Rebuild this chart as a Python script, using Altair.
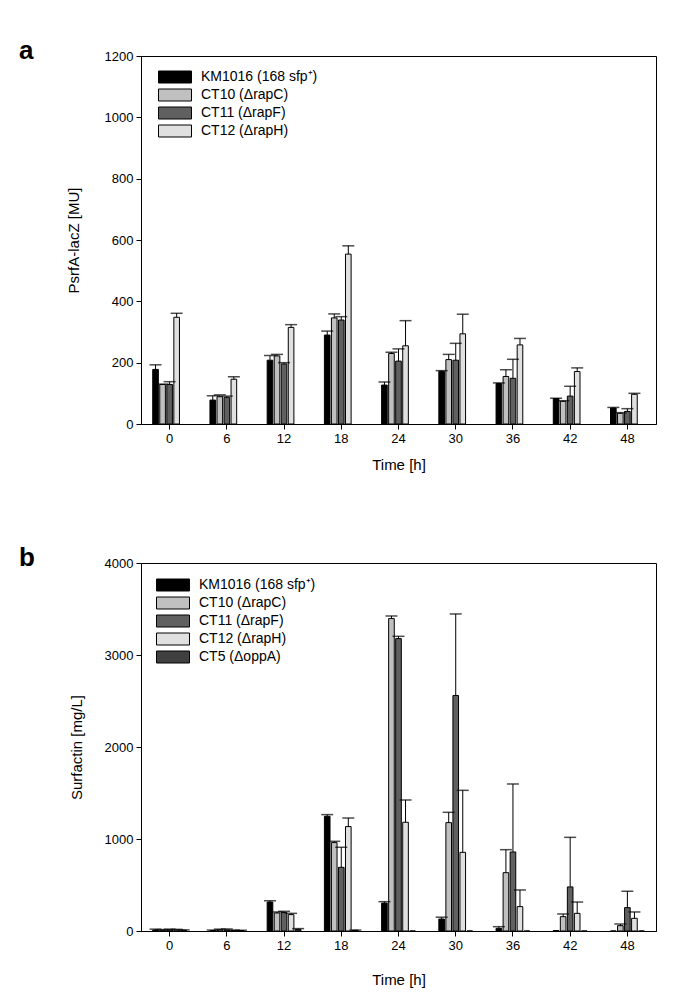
import altair as alt
import pandas as pd

times = [0, 6, 12, 18, 24, 30, 36, 42, 48]

strains_all = ["KM1016 (168 sfp\u207a)", "CT10 (\u0394rapC)", "CT11 (\u0394rapF)",
               "CT12 (\u0394rapH)", "CT5 (\u0394oppA)"]
colors_all = ["#000000", "#c0c0c0", "#606060", "#e0e0e0", "#404040"]

# Panel a: PsrfA-lacZ [MU] (mean, upper error)
a_km1016 = [178, 78, 208, 290, 127, 172, 132, 83, 52]
a_km1016_err = [15, 14, 15, 13, 10, 2, 2, 1, 2]
a_ct10 = [129, 89, 222, 346, 230, 210, 155, 74, 35]
a_ct10_err = [1, 6, 5, 13, 4, 17, 22, 2, 2]
a_ct11 = [129, 87, 196, 339, 205, 208, 149, 91, 41]
a_ct11_err = [9, 4, 4, 11, 40, 55, 62, 32, 9]
a_ct12 = [348, 146, 315, 554, 255, 294, 258, 171, 97]
a_ct12_err = [13, 8, 9, 27, 82, 64, 21, 12, 3]

# Panel b: Surfactin [mg/L] (mean, upper error)
b_km1016 = [10, 5, 315, 1247, 304, 130, 29, 5, 0]
b_km1016_err = [10, 5, 15, 18, 15, 20, 18, 0, 0]
b_ct10 = [8, 12, 196, 961, 3396, 1178, 634, 156, 58]
b_ct10_err = [7, 8, 11, 14, 28, 112, 250, 29, 18]
b_ct11 = [12, 10, 200, 692, 3178, 2560, 859, 479, 254]
b_ct11_err = [8, 12, 14, 218, 25, 886, 739, 539, 178]
b_ct12 = [10, 5, 178, 1135, 1182, 855, 265, 192, 138]
b_ct12_err = [8, 5, 14, 93, 242, 674, 181, 123, 69]
b_ct5 = [8, 5, 18, 8, 0, 0, 0, 0, 0]
b_ct5_err = [4, 3, 8, 2, 0, 0, 0, 0, 0]


def frame(series):
    rows = []
    for name, vals, errs in series:
        for t, v, e in zip(times, vals, errs):
            rows.append({"time": t, "strain": name, "value": v, "err": e})
    return pd.DataFrame(rows)


df_a = frame([
    (strains_all[0], a_km1016, a_km1016_err),
    (strains_all[1], a_ct10, a_ct10_err),
    (strains_all[2], a_ct11, a_ct11_err),
    (strains_all[3], a_ct12, a_ct12_err),
])
df_b = frame([
    (strains_all[0], b_km1016, b_km1016_err),
    (strains_all[1], b_ct10, b_ct10_err),
    (strains_all[2], b_ct11, b_ct11_err),
    (strains_all[3], b_ct12, b_ct12_err),
    (strains_all[4], b_ct5, b_ct5_err),
])

FONT = "Liberation Sans"
RECT = "M-2.75,-1L2.75,-1L2.75,1L-2.75,1Z"


def panel(df, n, ymax, ystep, ytitle, letter, ytitle_pad, xtitle_pad, lx, ly):
    xenc = alt.X("time:O", scale=alt.Scale(paddingInner=0.41, paddingOuter=0.205),
                 axis=alt.Axis(title="Time [h]", labelAngle=0, tickSize=5,
                               labelPadding=3, titlePadding=xtitle_pad,
                               domainColor="black", tickColor="black"))
    xoff = alt.XOffset("strain:N", scale=alt.Scale(domain=strains_all, paddingInner=0.2),
                       sort=strains_all)
    yscale = alt.Scale(domain=[0, ymax], nice=False)
    yaxis = alt.Axis(title=ytitle, values=list(range(0, ymax + 1, ystep)), format="d",
                     tickSize=5, grid=False, titlePadding=ytitle_pad, domainColor="black",
                     tickColor="black", labelPadding=3)
    base = alt.Chart(df)
    bars = base.mark_bar(stroke="black", strokeWidth=1).encode(
        x=xenc,
        xOffset=xoff,
        y=alt.Y("value:Q", scale=yscale, axis=yaxis),
        color=alt.Color("strain:N",
                        scale=alt.Scale(domain=strains_all[:n], range=colors_all[:n]),
                        sort=strains_all[:n],
                        legend=alt.Legend(title=None, orient="none", legendX=lx, legendY=ly,
                                          symbolType=RECT, symbolSize=144,
                                          symbolStrokeColor="black", symbolStrokeWidth=1,
                                          labelFontSize=14, labelFont=FONT,
                                          labelOffset=19, rowPadding=2, padding=0,
                                          labelColor="black")),
    )
    err = base.transform_filter("datum.err > 0").transform_calculate(
        top="datum.value + datum.err")
    rules = err.mark_rule(color="black", strokeWidth=1).encode(
        x=alt.X("time:O"), xOffset=xoff,
        y=alt.Y("value:Q", scale=yscale), y2="top:Q")
    caps = err.mark_tick(color="black", thickness=1.5, size=12, orient="horizontal").encode(
        x=alt.X("time:O"), xOffset=xoff,
        y=alt.Y("top:Q", scale=yscale))
    return alt.layer(bars, rules, caps).properties(
        width=515, height=368,
        title=alt.TitleParams(letter, anchor="start", frame="group", fontSize=26,
                              fontWeight="bold", font=FONT, dx=-122, offset=-14,
                              color="black"),
    )


pa = panel(df_a, 4, 1200, 200, "PsrfA-lacZ [MU]", "a", 23, 12, 27, 14)
pb = panel(df_b, 5, 4000, 1000, "Surfactin [mg/L]", "b", 20, 20, 25, 15)

chart = alt.vconcat(pa, pb, spacing=71).resolve_scale(
    color="independent", y="independent", x="independent", xOffset="independent"
).configure_view(stroke="black", strokeWidth=1).configure_axis(
    labelFont=FONT, titleFont=FONT, labelFontSize=13, titleFontSize=15,
    labelColor="black", titleColor="black", titleFontWeight="normal"
).properties(padding={"left": 10, "top": 29, "right": 5, "bottom": 5}, background="white")

chart.save("out.html", embed_options={"renderer": "svg", "actions": False})
